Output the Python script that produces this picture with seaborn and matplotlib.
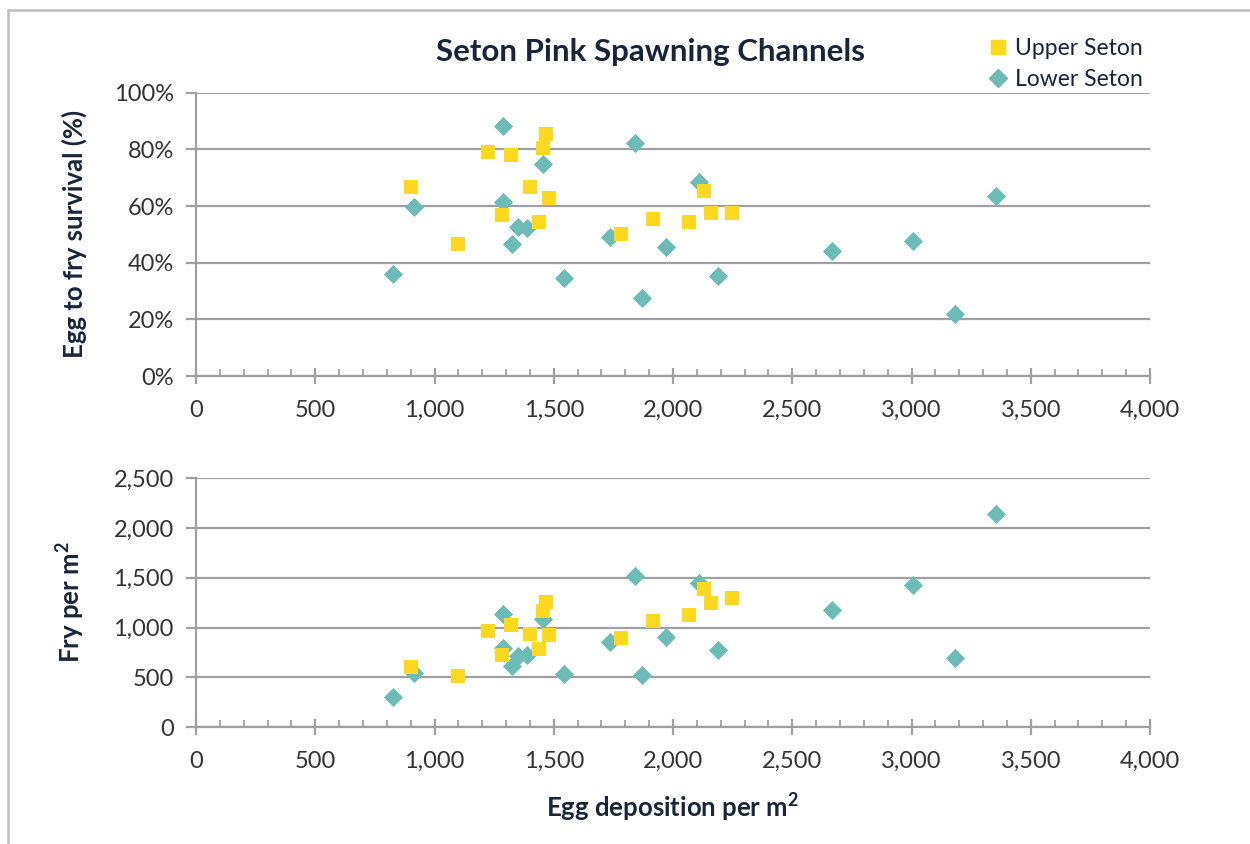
import seaborn as sns
import matplotlib.pyplot as plt
import pandas as pd
from matplotlib.lines import Line2D
from matplotlib.ticker import MultipleLocator, PercentFormatter, StrMethodFormatter

# values
upper_egg = [900, 1097, 1223, 1282, 1320, 1399, 1437, 1454, 1466, 1479,
             1781, 1917, 2068, 2131, 2159, 2248]
upper_survival = [66.8, 46.7, 79.1, 56.9, 78.0, 66.8, 54.5, 80.5, 85.4, 62.8,
                  50.2, 55.5, 54.4, 65.4, 57.6, 57.6]
upper_fry = [605, 512, 968, 726, 1030, 940, 785, 1168, 1255, 929,
             895, 1066, 1126, 1392, 1247, 1298]

lower_egg = [825, 913, 1286, 1286, 1327, 1352, 1387, 1454, 1543, 1736,
             1841, 1871, 1970, 2108, 2189, 2666, 3008, 3182, 3356]
lower_survival = [36.0, 59.6, 88.4, 61.5, 46.6, 52.7, 52.1, 74.8, 34.5, 49.2,
                  82.4, 27.7, 45.6, 68.5, 35.2, 44.2, 47.6, 21.8, 63.7]
lower_fry = [298, 545, 1138, 795, 618, 715, 723, 1088, 533, 855,
             1515, 518, 900, 1445, 772, 1178, 1431, 696, 2137]

sites = ['Upper Seton', 'Lower Seton']
colors = {'Upper Seton': '#FCD91E', 'Lower Seton': '#6CBBB6'}
markers = {'Upper Seton': 's', 'Lower Seton': 'D'}

# lower first so the yellow squares sit on top
df = pd.concat([
    pd.DataFrame({'site': 'Lower Seton', 'egg': lower_egg,
                  'survival': lower_survival, 'fry': lower_fry}),
    pd.DataFrame({'site': 'Upper Seton', 'egg': upper_egg,
                  'survival': upper_survival, 'fry': upper_fry}),
], ignore_index=True)

sns.set_theme(style='white')
plt.rcParams['font.family'] = ['Lato', 'DejaVu Sans']
# only the axis titles use mathtext (for the superscript 2), so make it bold
plt.rcParams['mathtext.fontset'] = 'custom'
plt.rcParams['mathtext.rm'] = 'Lato:bold'
plt.rcParams['mathtext.bf'] = 'Lato:bold'

navy = '#17243A'
grey = '#A0A0A4'
tick_col = '#333333'

fig = plt.figure(figsize=(12.5, 8.44), dpi=100)
ax1 = fig.add_axes([0.1568, 0.5545, 0.7632, 0.3357])
ax2 = fig.add_axes([0.1568, 0.1386, 0.7632, 0.2947])

size_map = {'Upper Seton': 110, 'Lower Seton': 95}
for ax, ycol in [(ax1, 'survival'), (ax2, 'fry')]:
    for site in ['Lower Seton', 'Upper Seton']:
        sub = df[df['site'] == site]
        sns.scatterplot(data=sub, x='egg', y=ycol, ax=ax, color=colors[site],
                        marker=markers[site], s=size_map[site], linewidth=0,
                        legend=False, zorder=3)
    ax.set_xlim(0, 4000)
    ax.xaxis.set_major_locator(MultipleLocator(500))
    ax.xaxis.set_minor_locator(MultipleLocator(100))
    ax.xaxis.set_major_formatter(StrMethodFormatter('{x:,.0f}'))
    ax.grid(axis='y', color=grey, linewidth=1.6, zorder=0)
    ax.set_axisbelow(True)
    for side in ['top', 'right']:
        ax.spines[side].set_visible(False)
    for side in ['left', 'bottom']:
        ax.spines[side].set_color(grey)
        ax.spines[side].set_linewidth(1.6)
    ax.tick_params(axis='x', which='major', direction='inout', length=12,
                   width=1.6, color=grey, labelsize=17, labelcolor=tick_col, pad=11,
                   bottom=True)
    ax.tick_params(axis='x', which='minor', direction='in', length=5,
                   width=1.3, color=grey, bottom=True)
    ax.tick_params(axis='y', which='major', direction='out', length=7,
                   width=1.6, color=grey, labelsize=17, labelcolor=tick_col, pad=9,
                   left=True)
    ax.set_xlabel('')

ax1.set_ylim(0, 100)
ax1.yaxis.set_major_locator(MultipleLocator(20))
ax1.yaxis.set_major_formatter(PercentFormatter(decimals=0))
ax1.set_ylabel('Egg to fry survival (%)', fontsize=18.5, fontweight='bold',
               color=navy)

ax2.set_ylim(0, 2500)
ax2.yaxis.set_major_locator(MultipleLocator(500))
ax2.yaxis.set_major_formatter(StrMethodFormatter('{x:,.0f}'))
ax2.set_ylabel(r'Fry per m$^{2}$', fontsize=18.5, fontweight='bold',
               color=navy)
ax2.set_xlabel(r'Egg deposition per m$^{2}$', fontsize=18.5,
               fontweight='bold', color=navy)

ax1.yaxis.set_label_coords(-0.114, 0.5)
ax2.yaxis.set_label_coords(-0.114, 0.5)
ax2.xaxis.set_label_coords(0.5, -0.255)

fig.text(0.52, 0.938, 'Seton Pink Spawning Channels', ha='center', va='center',
         fontsize=22.5, fontweight='bold', color=navy)

handles = [Line2D([], [], linestyle='none', marker=markers[s], color=colors[s],
                  markersize=10 if s == 'Upper Seton' else 9.5) for s in sites]
fig.legend(handles, sites, loc='upper left', bbox_to_anchor=(0.783, 0.968),
           frameon=False, fontsize=16.5, labelcolor=navy, handlelength=0.7,
           handletextpad=0.4, labelspacing=0.4, borderpad=0)

# grey frame of the original graphic (right and bottom edges are cropped)
fig.add_artist(Line2D([8 / 1250, 1], [1 - 10 / 844, 1 - 10 / 844],
                      transform=fig.transFigure, color='#BDBDC4', linewidth=1.8))
fig.add_artist(Line2D([8 / 1250, 8 / 1250], [0, 1 - 10 / 844],
                      transform=fig.transFigure, color='#BDBDC4', linewidth=1.8))

fig.savefig('out.png', dpi=100)
